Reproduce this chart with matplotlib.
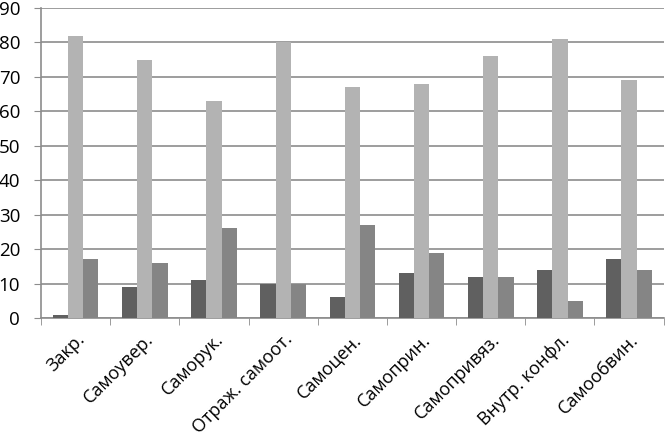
import matplotlib.pyplot as plt
import numpy as np

plt.rcParams['font.family'] = ['Open Sans', 'DejaVu Sans']

categories = ["Закр.", "Самоувер.", "Саморук.", "Отраж. самоот.", "Самоцен.",
              "Самоприн.", "Самопривяз.", "Внутр. конфл.", "Самообвин."]
series1 = [1, 9, 11, 10, 6, 13, 12, 14, 17]
series2 = [82, 75, 63, 80, 67, 68, 76, 81, 69]
series3 = [17, 16, 26, 10, 27, 19, 12, 5, 14]
colors = ["#606060", "#b3b3b3", "#858585"]

fig = plt.figure(figsize=(6.65, 4.38), dpi=100)
ax = fig.add_axes([41 / 665, 1 - 318 / 438, 1 - 41 / 665 - 0.002, 310 / 438])

x = np.arange(len(categories))
w = 0.22
for i, (vals, c) in enumerate(zip([series1, series2, series3], colors)):
    ax.bar(x + (i - 1) * w, vals, w, color=c, zorder=3)

ax.set_xlim(-0.5, len(categories) - 0.5)
ax.set_ylim(0, 90)
ax.set_yticks(range(0, 91, 10))
ax.yaxis.grid(True, color="#8c8c8c", linewidth=1.2, zorder=0)
ax.set_axisbelow(True)

# метки категорий посередине, а тики между ними
ax.set_xticks(x)
ax.set_xticklabels(categories, rotation=45, ha="right", rotation_mode="anchor", fontsize=13)
ax.set_xticks(np.arange(-0.5, len(categories)), minor=True)
ax.tick_params(axis="x", which="major", length=0, pad=9)
ax.tick_params(axis="x", which="minor", length=5, color="#8c8c8c")
ax.tick_params(axis="y", length=5, color="#8c8c8c", labelsize=13.5, pad=10)

for s in ["top", "right"]:
    ax.spines[s].set_visible(False)
for s in ["left", "bottom"]:
    ax.spines[s].set_color("#8c8c8c")
    ax.spines[s].set_linewidth(1.2)

fig.savefig("out.png", dpi=100)
